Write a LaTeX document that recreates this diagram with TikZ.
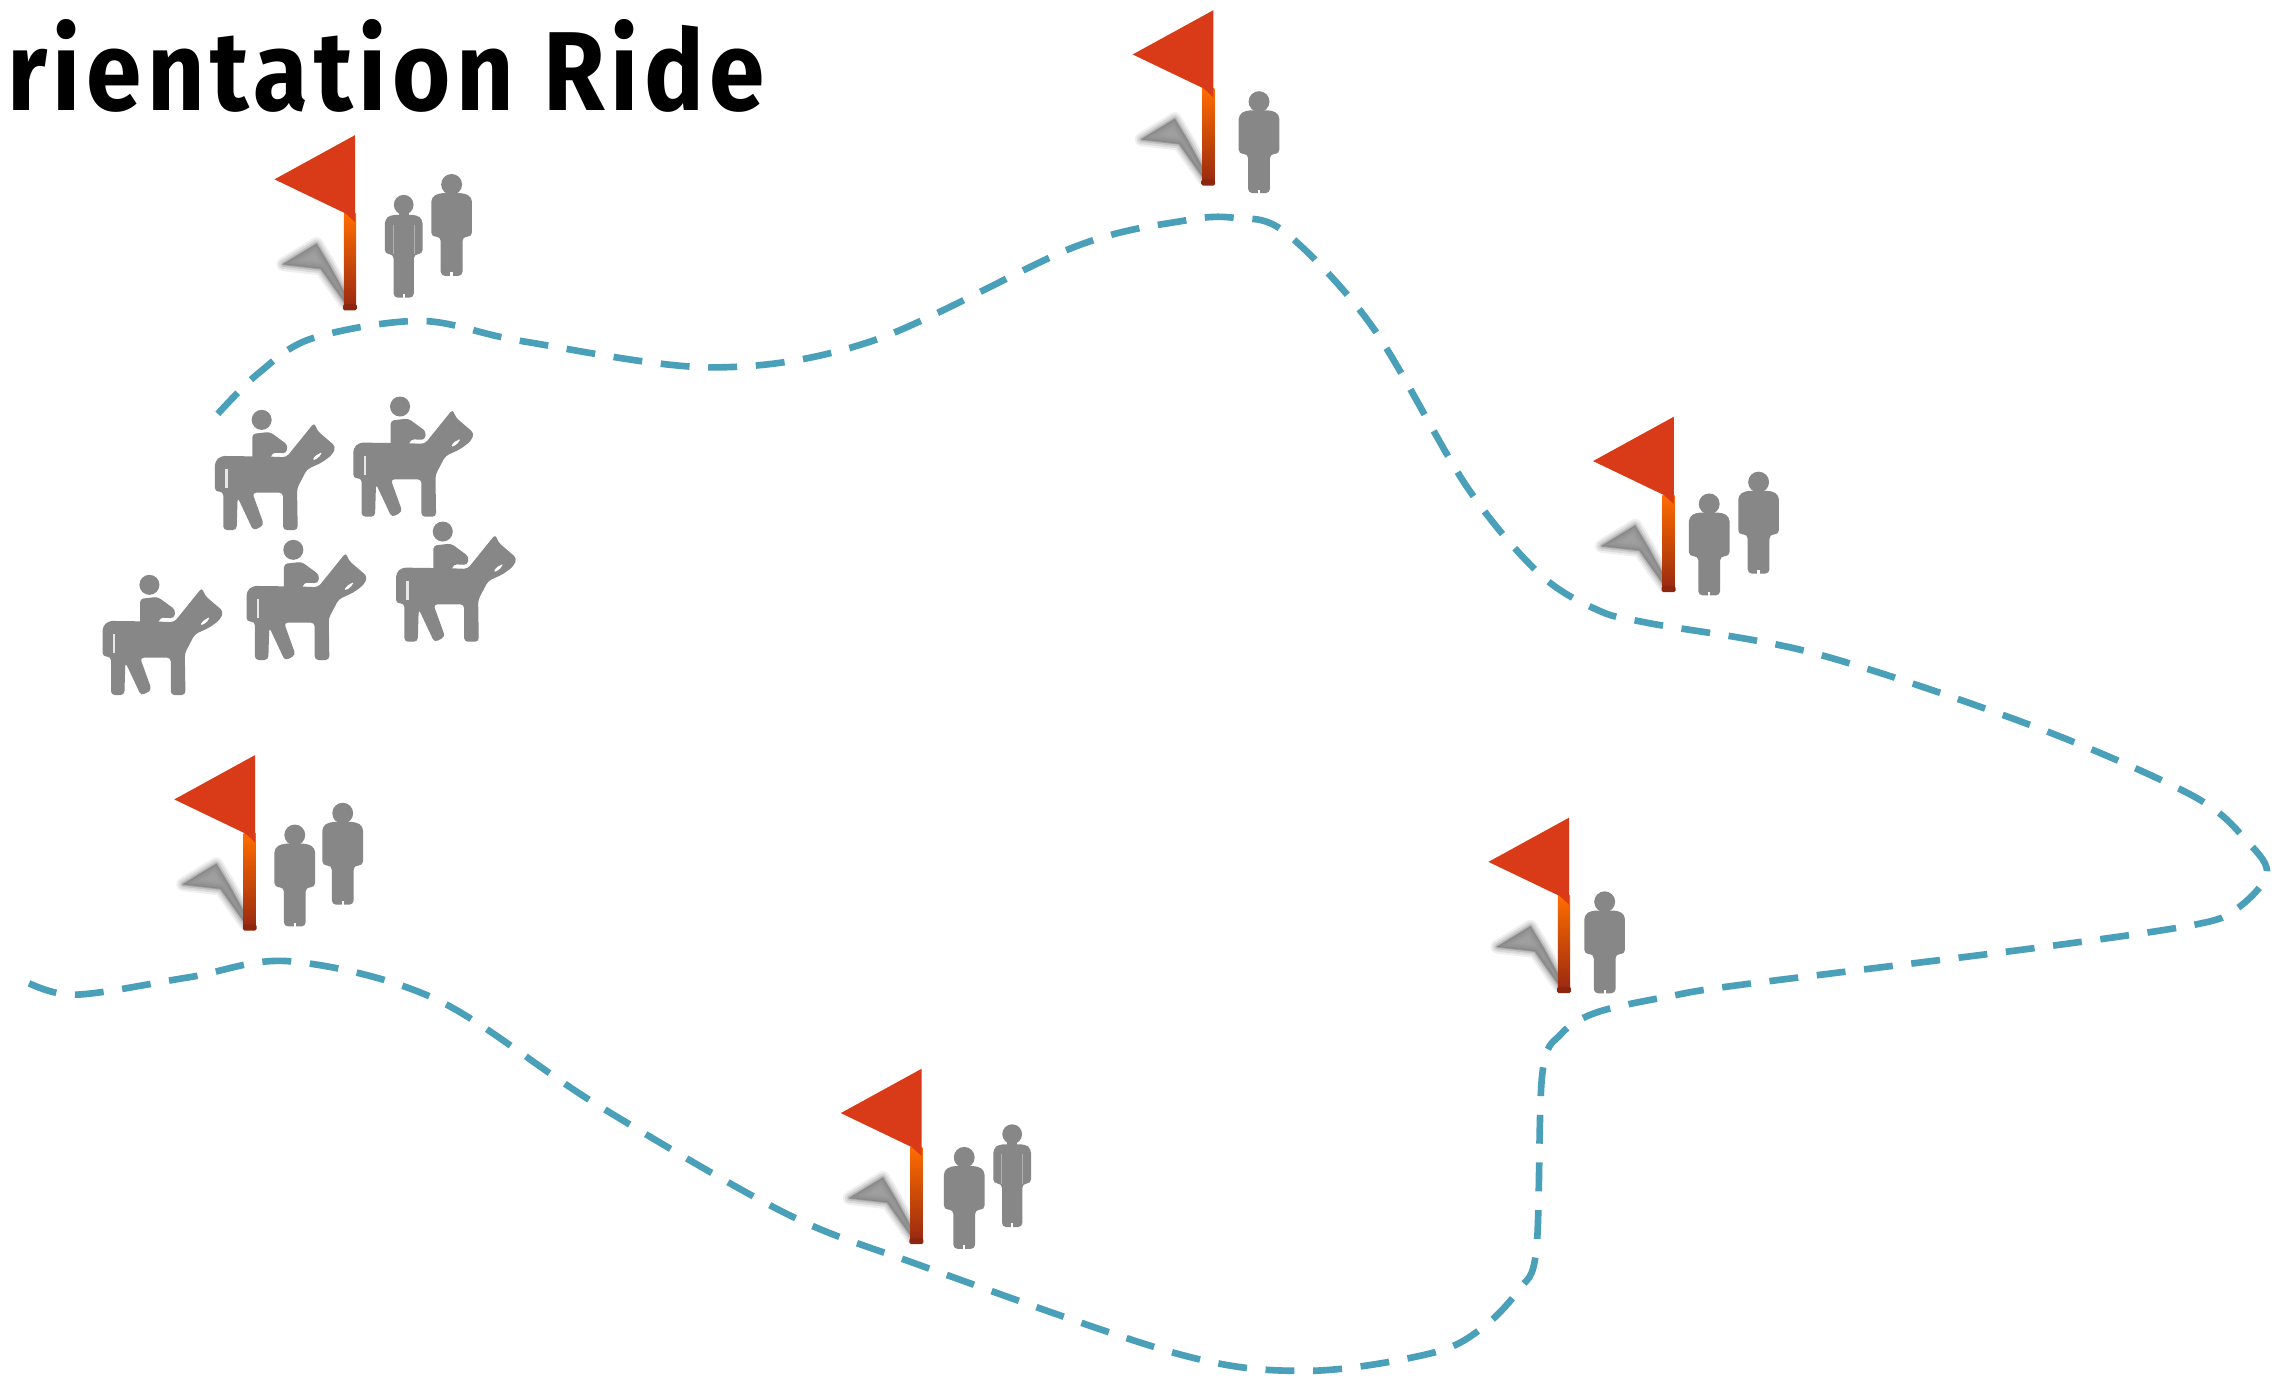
\documentclass[tikz,border=0pt]{standalone}
\usepackage{fontspec}
\newfontfamily\titlefont[FakeStretch=0.89,LetterSpace=5]{Fira Sans}
\definecolor{trail}{HTML}{4A9FB9}
\definecolor{flagred}{HTML}{D93A17}
\definecolor{figgrey}{HTML}{878787}
\tikzset{
  trailline/.style={draw=trail,line width=3.9pt,dash pattern=on 17pt off 11pt},
  figshape/.style={fill=figgrey,draw=none},
  pics/flagmark/.style={code={
    \foreach \w/\o in {8/0.12,5.5/0.18,3/0.28,1/0.5}{
      \path[fill=black!50,draw=black!50,line width=\w pt,line join=round,opacity=\o]
        (-3,-4) -- (-20,-28) -- (-46,-31) -- (-23,-45) -- (-14,-30) -- (-2,-8) -- cycle;
    }
    \shade[top color=orange!85!red,bottom color=flagred!70!black] (-4.2,-66) rectangle (4.2,-1);
    \fill[flagred!65!black,rounded corners=1pt] (-4.8,-3.5) rectangle (4.8,0.8);
    \fill[flagred] (3.6,-120) -- (-52,-89.5) -- (-3,-66) -- (3.6,-60) -- cycle;
  }},
  pics/personwide/.style={code={
    \fill[figshape,rounded corners=2.5pt] (-7.5,0) -- (-7.5,-27) -- (-14,-27) -- (-14,-54) -- (-9,-57) -- (9,-57) -- (14,-54) -- (14,-27) -- (7.5,-27) -- (7.5,0) -- cycle;
    \fill[figgrey] (-3.5,-60) rectangle (3.5,-54);
    \fill[figgrey] (0,-63) circle (7.2);
    \fill[white] (-0.8,0.5) rectangle (0.8,-2.5);
  }},
  pics/personslim/.style={code={
    \fill[figshape,rounded corners=2.5pt] (-7,0) -- (-7,-30) -- (-13,-30) -- (-13,-54) -- (-9,-57) -- (9,-57) -- (13,-54) -- (13,-30) -- (7,-30) -- (7,0) -- cycle;
    \fill[figgrey] (-3.5,-60) rectangle (3.5,-54);
    \fill[figgrey] (0,-64) circle (6.8);
    \fill[white] (-0.8,0.5) rectangle (0.8,-2.5);
    \fill[white,opacity=0.35] (-7.6,-30) rectangle (-6.9,-50);
    \fill[white,opacity=0.35] (6.9,-30) rectangle (7.6,-50);
  }},
  pics/rider/.style={code={
    \begin{scope}[x=0.00689cm,y=-0.00689cm,shift={(-820,-410)}]
      \fill[figgrey] (960,80) circle (30);
      \fill[figgrey,rounded corners=2pt] (932,200) -- (932,122) -- (985,116) -- (1038,155) -- (1034,180) -- (992,178) -- (985,200) -- cycle;
      \fill[figgrey,rounded corners=2.2pt]
        (820,295) -- (820,205) -- (838,188) -- (985,190) -- (1034,192) -- (1118,88) -- (1126,112) -- (1182,160) -- (1172,184)
        -- (1140,208) -- (1096,228) -- (1066,285) -- (1068,410) -- (1024,410) -- (1024,298) -- (932,298) -- (967,395) -- (935,412)
        -- (888,312) -- (885,410) -- (845,410) -- (845,295) -- cycle;
      \fill[white,rounded corners=1pt] (1120,188) -- (1142,176) -- (1130,194) -- (1112,202) -- cycle;
      \fill[white,opacity=0.8] (851,228) rectangle (858,285);
    \end{scope}
  }}
}
\begin{document}
\begin{tikzpicture}[x=0.03cm,y=-0.03cm]
  \useasboundingbox (0,0) rectangle (1568,952);
  \clip (0,0) rectangle (1568,952);
  \fill[white] (0,0) rectangle (1568,952);
  \node[anchor=base east,inner sep=0pt,font=\titlefont\bfseries\fontsize{66}{66}\selectfont] (title) at (527,76) {rientation Ride};
  \draw[trailline] plot[smooth,tension=0.55] coordinates {
    (150,285) (178,257) (215,233) (290,221) (360,235) (490,253) (600,235) (740,170) (815,152) (850,150) (885,160)
    (945,225) (1010,335) (1060,395) (1100,420) (1135,429) (1250,450) (1400,500) (1510,548) (1548,580) (1561,602) (1540,626) (1510,637)
    (1400,653) (1200,678) (1150,686) (1100,697) (1075,712) (1062,740) (1058,860) (1046,888) (1020,915) (985,932) (900,944) (810,932)
    (630,870) (540,835) (410,760) (300,688) (200,662) (130,673) (50,685) (12,673)};
  \foreach \p in {(241,213),(832,127),(1149,407),(172,640),(1077,683),(631,856)}
    \pic at \p {flagmark};
  \pic at (278,205) {personslim};
  \pic at (311,190) {personwide};
  \pic at (867,133) {personwide};
  \pic at (1177,410) {personwide};
  \pic at (1211,395) {personwide};
  \pic at (203,638) {personwide};
  \pic at (236,623) {personwide};
  \pic at (1105,684) {personwide};
  \pic at (664,860) {personwide};
  \pic at (697,845) {personslim};
  \foreach \p in {(148,365),(243.3,355.8),(272.7,441.9),(169.8,454.5),(70.7,478.6)}
    \pic at \p {rider};
\end{tikzpicture}
\end{document}
